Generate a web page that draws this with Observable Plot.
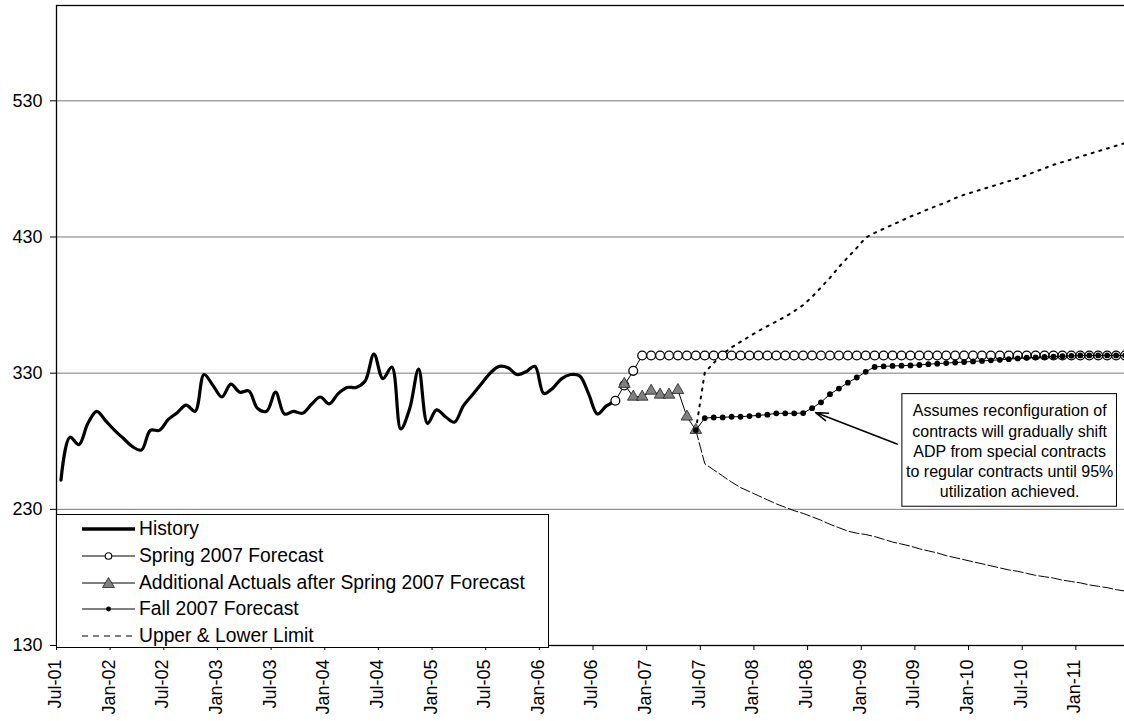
<!DOCTYPE html>
<html>
<head>
<meta charset="utf-8">
<script src="https://cdn.jsdelivr.net/npm/d3@7"></script>
<script src="https://cdn.jsdelivr.net/npm/@observablehq/plot@0.6"></script>
<style>
  body { margin: 0; background: #fff; font-family: "Liberation Sans", Arial, sans-serif; }
  #wrap { position: relative; width: 1124px; height: 721px; overflow: hidden; }
  #legend { position: absolute; left: 56px; top: 514px; width: 491px; height: 132px; border: 1px solid #000; background: #fff; }
  .row { position: absolute; left: 0; height: 27px; display: flex; align-items: center; font-size: 19.3px; color: #000; white-space: nowrap; }
  .row svg { margin-left: 25px; margin-right: 4px; display: block; }
</style>
</head>
<body>
<div id="wrap"></div>
<script>
// ---- Data (month index 0 = Jul-01) ----
const tickLabels = ["Jul-01","Jan-02","Jul-02","Jan-03","Jul-03","Jan-04","Jul-04","Jan-05","Jul-05","Jan-06",
                    "Jul-06","Jan-07","Jul-07","Jan-08","Jul-08","Jan-09","Jul-09","Jan-10","Jul-10","Jan-11"];
const yTicks = [130, 230, 330, 430, 530];

const historyStart = 0;
const historyValues = [251.5, 283, 277.5, 293, 302, 295, 288, 282, 276, 273.5,
  288, 288, 296, 301, 306.5, 302, 329, 321, 312.5, 322,
  316, 317, 304, 302, 316, 300, 302, 300.5, 307, 312.5,
  307.5, 315, 319.5, 319.5, 324, 344, 326, 334.5, 289, 304,
  333, 293, 303, 298, 294, 306, 314, 322, 330, 335,
  334, 329, 331, 335, 315, 319, 326, 329, 328, 315,
  300, 306, 309.7];

const springStart = 62;
const springValues = [309.7, 321, 331.7, 343, 343, 343, 343, 343, 343, 343,
  343, 343, 343, 343, 343, 343, 343, 343, 343, 343,
  343, 343, 343, 343, 343, 343, 343, 343, 343, 343,
  343, 343, 343, 343, 343, 343, 343, 343, 343, 343,
  343, 343, 343, 343, 343, 343, 343, 343, 343, 343,
  343, 343, 343, 343, 343, 343, 343, 343];

const actualsStart = 63;
const actualsValues = [322, 312.6, 312.6, 317, 314.1, 314.1, 317.5, 298, 288.2];

const fallStart = 71;
const fallValues = [288.2, 297, 297.5, 297.5, 298, 298, 298.5, 299, 299.5, 300.5,
  300.5, 300.5, 300.7, 304.3, 308.6, 314.6, 318.7, 323, 326.8, 331,
  334.6, 335, 335.3, 335.5, 335.7, 336, 336.6, 337, 337.4, 337.8,
  338.2, 338.6, 339, 339.4, 339.8, 340.3, 340.8, 341.3, 341.6, 341.9,
  342.2, 342.5, 342.7, 343, 343, 343, 343, 343, 343];

const limitStart = 71;
const upperValues = [288.2, 330.5, 337.5, 344, 349, 353, 357, 361, 364.5, 368,
  371.5, 375.5, 380, 386, 393, 400, 408, 415, 422, 429.5,
  433, 436, 439, 442, 445, 447.5, 450.5, 453, 455.5, 458.5,
  461, 463, 465, 467, 469, 471, 473, 475.5, 478, 480.5,
  483, 485, 487, 489, 491, 493, 495, 497, 499];
const lowerValues = [288.2, 263.5, 259, 254.5, 250, 246, 243, 240, 237, 234,
  231.5, 229, 227, 224.5, 222, 219, 216.5, 214, 212.5, 211.5,
  210, 208, 206, 204.5, 203, 201, 199.5, 198, 196, 194.5,
  193, 191.5, 190, 188.5, 187, 185.5, 184.5, 183, 181.5, 180.5,
  179.5, 178, 177, 176, 174.5, 173.5, 172.5, 171, 170];

const annotationText = "Assumes reconfiguration of\ncontracts will gradually shift\nADP from special contracts\nto regular contracts until 95%\nutilization achieved.";

// ---- build tables ----
const toRows = (start, vals) => vals.map((v, i) => ({m: start + i, v}));
const history = toRows(historyStart, historyValues);
const spring = toRows(springStart, springValues);
const actuals = toRows(actualsStart, actualsValues);
const fall = toRows(fallStart, fallValues);
const upper = toRows(limitStart, upperValues);
const lower = toRows(limitStart, lowerValues);
const labelRows = tickLabels.map((t, i) => ({m: i * 6, t}));
const boundaries = tickLabels.map((t, i) => i * 6 - 0.5);

const note = [{text: annotationText}];

const chart = Plot.plot({
  width: 1124,
  height: 721,
  marginLeft: 56,
  marginRight: -5,
  marginTop: 5,
  marginBottom: 76,
  style: {fontFamily: "'Liberation Sans', Arial, sans-serif", fontSize: "18px", color: "#000", background: "#fff"},
  x: {type: "linear", domain: [-0.5, 119.5], axis: null},
  y: {domain: [130, 600], axis: null},
  marks: [
    Plot.gridY(yTicks.slice(1), {stroke: "#7a7a7a", strokeOpacity: 1, strokeWidth: 1}),
    Plot.line(upper, {x: "m", y: "v", stroke: "#000", strokeWidth: 2, strokeDasharray: "2,6"}),
    Plot.line(lower, {x: "m", y: "v", stroke: "#000", strokeWidth: 1, strokeDasharray: "10,3"}),
    Plot.line(history, {x: "m", y: "v", curve: "catmull-rom", stroke: "#000", strokeWidth: 3.2}),
    Plot.line(spring, {x: "m", y: "v", stroke: "#000", strokeWidth: 1}),
    Plot.dot(spring, {x: "m", y: "v", r: 4.4, fill: "#fff", stroke: "#000", strokeWidth: 1.3}),
    Plot.line(actuals, {x: "m", y: "v", stroke: "#000", strokeWidth: 1}),
    Plot.dot(actuals, {x: "m", y: "v", symbol: "triangle", r: 4.3, fill: "#808080", stroke: "#222", strokeWidth: 0.8}),
    Plot.line(fall, {x: "m", y: "v", stroke: "#000", strokeWidth: 1}),
    Plot.dot(fall, {x: "m", y: "v", r: 2.9, fill: "#000", stroke: "none"}),
    Plot.arrow(note, {x1: 93.5, y1: 277.9, x2: 84.4, y2: 301.1, stroke: "#000", strokeWidth: 1.6, headLength: 12, headAngle: 36, insetStart: 0, insetEnd: 0}),
    Plot.rect(note, {x1: 94.1, x2: 118.1, y1: 231.9, y2: 314.6, fill: "#fff", stroke: "#000", strokeWidth: 1}),
    Plot.text(note, {x: 106.1, y: 273.4, text: "text", lineHeight: 1.26, fontSize: 16, textAnchor: "middle", fill: "#000"}),
    Plot.frame({stroke: "#000", strokeWidth: 1.3}),
    Plot.axisY({ticks: yTicks, tickSize: 6, tickPadding: 8, anchor: "left", label: null, fontSize: 18, tickFormat: d => String(d)}),
    Plot.axisX({ticks: boundaries, tickSize: 5, tickFormat: () => "", label: null, anchor: "bottom"}),
    Plot.text(labelRows, {x: "m", text: "t", frameAnchor: "bottom", rotate: -90, textAnchor: "end", dy: 14, fontSize: 18, fill: "#000"})
  ]
});

const wrap = document.getElementById("wrap");
wrap.appendChild(chart);

// ---- legend (inside plot area, bottom-left) ----
const legendItems = [
  {label: "History", kind: "history"},
  {label: "Spring 2007 Forecast", kind: "spring"},
  {label: "Additional Actuals after Spring 2007 Forecast", kind: "actuals"},
  {label: "Fall 2007 Forecast", kind: "fall"},
  {label: "Upper & Lower Limit", kind: "limit"}
];
const rowCenters = [14, 41, 68, 94, 121];
const legend = document.createElement("div");
legend.id = "legend";
legendItems.forEach((it, i) => {
  const row = document.createElement("div");
  row.className = "row";
  row.style.top = (rowCenters[i] - 13.5) + "px";
  let sw = "";
  if (it.kind === "history") sw = '<line x1="0" y1="8" x2="53" y2="8" stroke="#000" stroke-width="3.5"/>';
  if (it.kind === "spring") sw = '<line x1="0" y1="8" x2="53" y2="8" stroke="#000" stroke-width="1"/><circle cx="26.5" cy="8" r="3.3" fill="#fff" stroke="#000" stroke-width="1.1"/>';
  if (it.kind === "actuals") sw = '<line x1="0" y1="8" x2="53" y2="8" stroke="#000" stroke-width="1"/><path d="M26.5,2.5 L32.5,12.5 L20.5,12.5 Z" fill="#808080" stroke="#222" stroke-width="0.8"/>';
  if (it.kind === "fall") sw = '<line x1="0" y1="8" x2="53" y2="8" stroke="#000" stroke-width="1"/><circle cx="26.5" cy="8" r="2.4" fill="#000"/>';
  if (it.kind === "limit") sw = '<line x1="0" y1="8" x2="53" y2="8" stroke="#000" stroke-width="1" stroke-dasharray="6,5"/>';
  row.innerHTML = '<svg width="53" height="16" viewBox="0 0 53 16">' + sw + '</svg><span></span>';
  row.querySelector("span").textContent = it.label;
  legend.appendChild(row);
});
wrap.appendChild(legend);
</script>
</body>
</html>
